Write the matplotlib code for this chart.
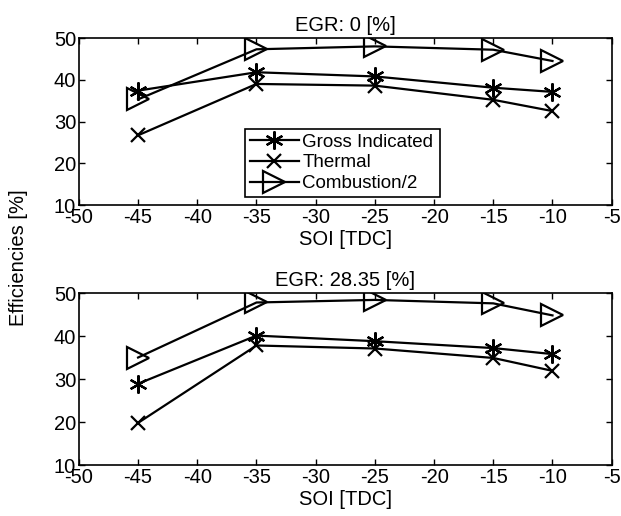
import numpy as np
import matplotlib.pyplot as plt
from matplotlib import rcParams

rcParams['font.family'] = ['Liberation Sans', 'DejaVu Sans']
rcParams['font.size'] = 14.5
rcParams['axes.unicode_minus'] = False

# SOI-Werte und Wirkungsgrade
soi = [-45, -35, -25, -15, -10]

# EGR 0 %
gross_0 = [37.4, 41.8, 40.8, 38.1, 37.1]
thermal_0 = [26.7, 39.0, 38.6, 35.2, 32.5]
comb_0 = [35.3, 47.3, 48.0, 47.2, 44.5]

# EGR 28.35 %
gross_28 = [28.9, 40.1, 38.8, 37.2, 35.8]
thermal_28 = [19.8, 37.8, 37.1, 34.9, 31.9]
comb_28 = [35.0, 47.8, 48.4, 47.6, 44.8]

titles = ['EGR: 0 [%]', 'EGR: 28.35 [%]']
series = [(gross_0, thermal_0, comb_0), (gross_28, thermal_28, comb_28)]
labels = ['Gross Indicated', 'Thermal', 'Combustion/2']

fig = plt.figure(figsize=(6.21, 5.16), dpi=100)
ax_top = fig.add_axes([0.127, 0.6027, 0.858, 0.3236])
ax_bot = fig.add_axes([0.127, 0.0988, 0.858, 0.3333])

asterisk = (6, 2, 0)
for ax, title, (g, t, c) in zip([ax_top, ax_bot], titles, series):
    ax.plot(soi, g, color='black', lw=1.6, marker=asterisk, ms=13, mew=1.6,
            label=labels[0])
    ax.plot(soi, t, color='black', lw=1.6, marker='x', ms=10, mew=1.6,
            label=labels[1])
    ax.plot(soi, c, color='black', lw=1.6, marker='>', ms=16, mew=1.6,
            mfc='none', label=labels[2])
    ax.set_xlim(-50, -5)
    ax.set_ylim(10, 50)
    ax.set_xticks(np.arange(-50, -4, 5))
    ax.set_yticks(np.arange(10, 51, 10))
    ax.tick_params(direction='in', top=True, right=True, length=4,
                   width=1, pad=2, labelsize=14.5)
    for s in ax.spines.values():
        s.set_linewidth(1.2)
    ax.set_xlabel('SOI [TDC]', labelpad=2)
    ax.set_title(title, fontsize=14.5, pad=5)

leg = ax_top.legend(loc='lower left', bbox_to_anchor=(0.312, 0.048, 0.365, 0.497),
                    mode='expand', fancybox=False, framealpha=1,
                    edgecolor='black', fontsize=13.5, handlelength=2.6,
                    handletextpad=0.2, borderpad=0.25, labelspacing=0.2,
                    borderaxespad=0)
leg.get_frame().set_linewidth(1.2)

fig.text(0.03, 0.5, 'Efficiencies [%]', rotation=90, va='center', ha='center',
         fontsize=14.5)

plt.savefig('out.png', dpi=100)
